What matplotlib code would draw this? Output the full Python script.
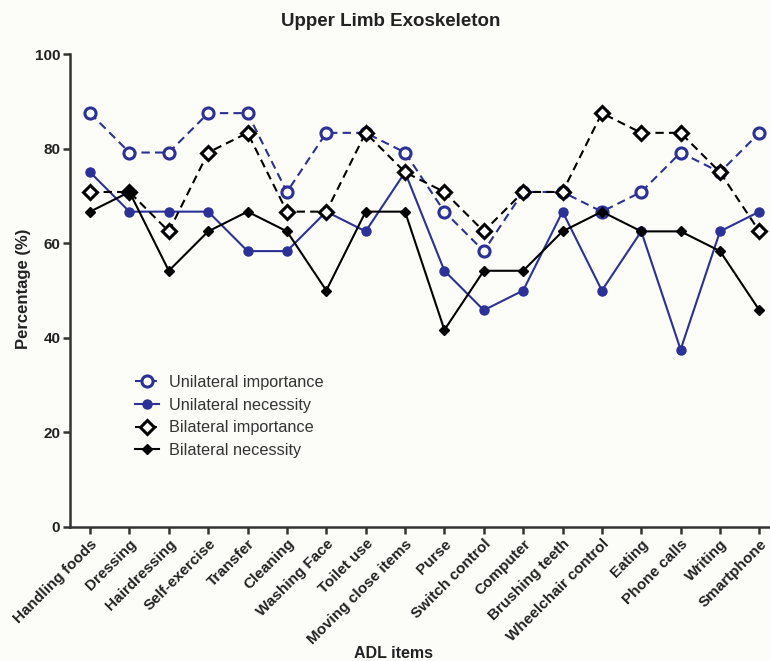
import matplotlib
matplotlib.use("Agg")
import matplotlib.pyplot as plt

plt.rcParams['font.family'] = ['Liberation Sans', 'DejaVu Sans']

items = ["Handling foods", "Dressing", "Hairdressing", "Self-exercise", "Transfer",
         "Cleaning", "Washing Face", "Toilet use", "Moving close items", "Purse",
         "Switch control", "Computer", "Brushing teeth", "Wheelchair control",
         "Eating", "Phone calls", "Writing", "Smartphone"]

uni_importance = [87.5, 79.17, 79.17, 87.5, 87.5, 70.83, 83.33, 83.33, 79.17, 66.67,
                  58.33, 70.83, 70.83, 66.67, 70.83, 79.17, 75.0, 83.33]
uni_necessity = [75.0, 66.67, 66.67, 66.67, 58.33, 58.33, 66.67, 62.5, 75.0, 54.17,
                 45.83, 50.0, 66.67, 50.0, 62.5, 37.5, 62.5, 66.67]
bi_importance = [70.83, 70.83, 62.5, 79.17, 83.33, 66.67, 66.67, 83.33, 75.0, 70.83,
                 62.5, 70.83, 70.83, 87.5, 83.33, 83.33, 75.0, 62.5]
bi_necessity = [66.67, 70.83, 54.17, 62.5, 66.67, 62.5, 50.0, 66.67, 66.67, 41.67,
                54.17, 54.17, 62.5, 66.67, 62.5, 62.5, 58.33, 45.83]

blue = '#2b3196'
bg = '#fcfcf8'
x = list(range(len(items)))

fig = plt.figure(figsize=(7.7, 6.61), dpi=100, facecolor=bg)
ax = fig.add_axes([70/770, 1-527/661, 1-70/770, (527-54)/661])
ax.set_facecolor(bg)

ax.plot(x, uni_importance, color=blue, ls=(0, (4, 2.5)), lw=1.5, marker='o', ms=8,
        mfc='white', mec=blue, mew=2.2, label='Unilateral importance', zorder=3)
ax.plot(x, uni_necessity, color=blue, ls='-', lw=1.5, marker='o', ms=6.5,
        mfc=blue, mec=blue, label='Unilateral necessity', zorder=3)
ax.plot(x, bi_importance, color='black', ls=(0, (4, 2.5)), lw=1.5, marker='D', ms=7.5,
        mfc='white', mec='black', mew=2.2, label='Bilateral importance', zorder=4)
ax.plot(x, bi_necessity, color='black', ls='-', lw=1.5, marker='D', ms=5.5,
        mfc='black', mec='black', label='Bilateral necessity', zorder=4)

ax.set_xlim(-0.51, 17.27)
ax.set_ylim(0, 100)
ax.set_yticks([0, 20, 40, 60, 80, 100])
ax.set_xticks(x)
ax.set_xticklabels(items, rotation=45, ha='right', rotation_mode='anchor',
                   fontsize=11, fontweight='bold', color='#222222')
for lab in ax.get_yticklabels():
    lab.set_fontweight('bold')
    lab.set_fontsize(11)
    lab.set_color('#222222')

for s in ['top', 'right']:
    ax.spines[s].set_visible(False)
for s in ['left', 'bottom']:
    ax.spines[s].set_linewidth(1.8)
    ax.spines[s].set_color('#333333')
ax.tick_params(axis='both', length=5, width=1.8, color='#333333', pad=2)

fig.text(24/770, 1-289/661, 'Percentage (%)', rotation=90, ha='center', va='center',
         fontsize=12, fontweight='bold', color='#222222')
fig.text(393/770, 1-653/661, 'ADL items', ha='center', va='center',
         fontsize=11.5, fontweight='bold', color='#222222')
fig.text(391/770, 1-22/661, 'Upper Limb Exoskeleton', ha='center', va='center',
         fontsize=13.5, fontweight='bold', color='#222222')

leg = ax.legend(loc='upper left', bbox_to_anchor=(0.072, 0.352), frameon=False,
                fontsize=11.7, handlelength=1.5, handletextpad=0.6, labelspacing=0.47,
                labelcolor='#333333')

fig.savefig('out.png', dpi=100, facecolor=bg)
